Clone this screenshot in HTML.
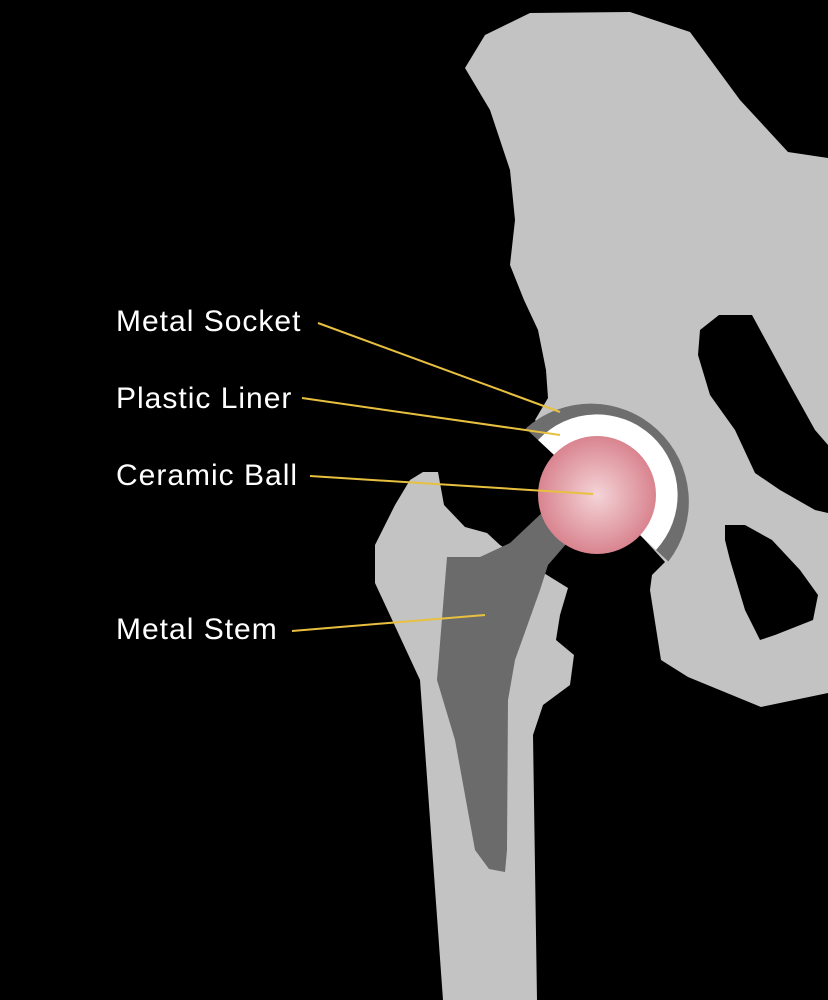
<!DOCTYPE html>
<html><head><style>
html,body{margin:0;padding:0;background:#000;}
svg{display:block}
text{font-family:"Liberation Sans",sans-serif;font-size:30px;fill:#fff;letter-spacing:1px}
</style></head><body>
<svg width="828" height="1000" viewBox="0 0 828 1000" xmlns="http://www.w3.org/2000/svg">
<defs>
<radialGradient id="b" cx="0.5" cy="0.5" r="0.5">
<stop offset="0" stop-color="#f4d4d7"/>
<stop offset="1" stop-color="#d9848f"/>
</radialGradient>
</defs>
<rect width="828" height="1000" fill="#000"/>
<polygon fill="#c3c3c3" points="465,68 485,35 530,13 630,12 690,32 740,100 788,152 828,158 828,693 761,707 688,677 661,660 650,590 652,575 665,562 535,420 548,398 546,370 538,330 524,300 510,265 515,220 510,170 490,110"/>
<polygon fill="#000" points="719,315 752,315 790,385 815,430 828,445 828,513 815,510 780,490 755,473 735,430 710,395 698,355 700,330"/>
<polygon fill="#000" points="725,525 745,525 772,540 800,570 818,595 813,620 775,635 760,640 745,610 730,560 725,540"/>
<path d="M528,426 A98,98 0 0 1 666,564 Z" fill="#6e6e6e" transform="rotate(-2 597 495)"/>
<path d="M540,438 A80,80 0 0 1 654,552 Z" fill="#fff" transform="rotate(-2 597 495)"/>
<polygon fill="#c3c3c3" points="423,472 438,472 444,505 465,527 487,533 500,545 547,575 568,588 560,615 556,640 574,655 570,685 543,705 533,735 537,1000 443,1000 420,680 375,583 375,545 395,505 410,480"/>
<polygon fill="#6b6b6b" points="447,557 480,557 510,543 545,510 575,530 567,543 548,565 540,590 515,660 508,700 507,850 505,872 489,869 475,850 455,740 437,680"/>
<circle cx="597" cy="495" r="59" fill="url(#b)"/>
<g stroke="#e8c040" stroke-width="2" fill="none">
<line x1="318" y1="323" x2="560" y2="412"/>
<line x1="302" y1="398" x2="560" y2="435"/>
<line x1="310" y1="476" x2="593" y2="494"/>
<line x1="292" y1="631" x2="485" y2="615"/>
</g>
<text x="116" y="331">Metal Socket</text>
<text x="116" y="408">Plastic Liner</text>
<text x="116" y="485">Ceramic Ball</text>
<text x="116" y="639">Metal Stem</text>
</svg>
</body></html>
